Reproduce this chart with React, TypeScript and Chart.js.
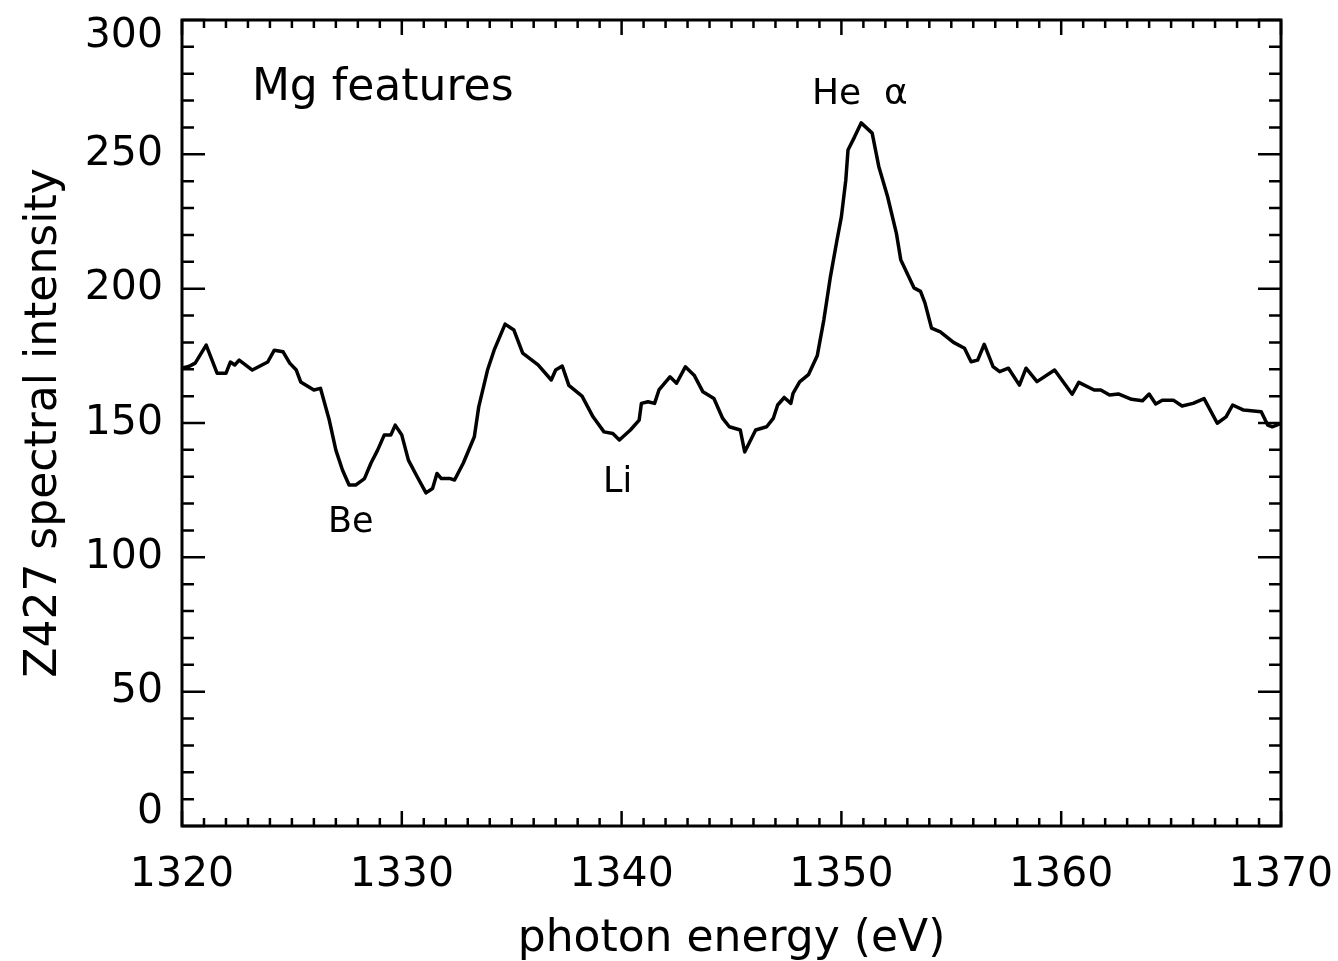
import React, { useEffect, useRef } from "react";
import { Chart, registerables } from "chart.js";

Chart.register(...registerables);

// photon energy (eV)
const energy = [
  1320.0, 1320.3, 1320.6, 1321.1, 1321.6, 1322.0, 1322.2, 1322.4, 1322.6, 1323.2,
  1323.9, 1324.2, 1324.6, 1324.9, 1325.2, 1325.4, 1326.0, 1326.3, 1326.7, 1327.0,
  1327.3, 1327.6, 1327.9, 1328.3, 1328.6, 1328.9, 1329.2, 1329.5, 1329.7, 1330.0,
  1330.3, 1330.7, 1331.1, 1331.4, 1331.6, 1331.8, 1332.2, 1332.4, 1332.8, 1333.3,
  1333.5, 1333.9, 1334.2, 1334.7, 1335.1, 1335.5, 1336.2, 1336.8, 1337.0, 1337.3,
  1337.6, 1338.2, 1338.7, 1339.2, 1339.6, 1339.9, 1340.4, 1340.8, 1340.9, 1341.2,
  1341.5, 1341.7, 1342.2, 1342.5, 1342.9, 1343.3, 1343.7, 1344.2, 1344.6, 1344.9,
  1345.4, 1345.6, 1346.1, 1346.6, 1346.9, 1347.1, 1347.4, 1347.7, 1347.8, 1348.1,
  1348.5, 1348.9, 1349.2, 1349.5, 1349.8, 1350.0, 1350.2, 1350.3, 1350.6, 1350.9,
  1351.4, 1351.7, 1352.1, 1352.5, 1352.7, 1353.3, 1353.6, 1353.8, 1354.1, 1354.5,
  1355.1, 1355.6, 1355.9, 1356.2, 1356.5, 1356.9, 1357.2, 1357.6, 1358.1, 1358.4,
  1358.9, 1359.7, 1360.5, 1360.8, 1361.5, 1361.8, 1362.2, 1362.6, 1363.2, 1363.7,
  1364.0, 1364.3, 1364.6, 1365.1, 1365.5, 1366.0, 1366.5, 1367.1, 1367.5, 1367.8,
  1368.3, 1369.1, 1369.4, 1369.6, 1370.0,
];

// Z427 spectral intensity
const intensity = [
  170.5, 171.0, 172.3, 179.0, 168.5, 168.5, 172.7, 171.6, 173.4, 169.7,
  172.7, 177.1, 176.5, 172.3, 169.7, 165.3, 162.3, 162.9, 151.1, 139.9,
  132.5, 126.9, 126.9, 129.3, 135.1, 139.9, 145.5, 145.5, 149.2, 145.5,
  136.2, 130.0, 124.0, 125.6, 131.2, 129.3, 129.3, 128.8, 135.1, 144.9,
  156.0, 169.7, 177.1, 186.8, 184.6, 176.0, 171.6, 166.0, 169.7, 171.2,
  164.0, 160.0, 152.3, 146.7, 146.1, 143.7, 147.4, 151.1, 157.3, 157.9,
  157.3, 162.3, 167.2, 164.8, 170.9, 167.8, 161.6, 159.1, 151.7, 148.6,
  147.4, 139.2, 147.4, 148.6, 151.7, 156.7, 159.5, 157.3, 161.0, 165.3,
  168.0, 175.0, 188.3, 204.4, 218.1, 226.8, 240.4, 251.6, 256.5, 261.7,
  257.9, 245.5, 234.3, 220.7, 210.8, 200.3, 199.0, 194.7, 185.3, 183.9,
  180.0, 177.8, 172.8, 173.4, 179.3, 171.0, 169.1, 170.4, 164.1, 170.4,
  165.4, 169.7, 160.7, 165.1, 162.3, 162.3, 160.4, 160.8, 158.8, 158.3,
  160.8, 157.1, 158.5, 158.5, 156.3, 157.3, 159.1, 149.9, 152.3, 156.7,
  154.8, 154.2, 149.2, 148.6, 149.9,
];

const xTickLabels = [1320, 1330, 1340, 1350, 1360, 1370];
const yTickLabels = [0, 50, 100, 150, 200, 250, 300];

const annotationTexts = ["Mg features", "He  \u03b1", "Be", "Li"];
const annotationX = [1323.18, 1348.66, 1326.64, 1339.15];
const annotationY = [270.2, 268.9, 109.4, 124.3];
const annotationSizes = [44, 36, 35, 35];

const FONT = "'DejaVu Sans', 'Liberation Sans', sans-serif";

const framePlugin = {
  id: "idlFrame",
  afterDatasetsDraw(chart: any) {
    const { ctx, chartArea: a, scales } = chart;
    const xs = scales.x;
    const ys = scales.y;
    ctx.save();
    ctx.strokeStyle = "#000";
    ctx.lineWidth = 3;
    ctx.lineCap = "butt";
    ctx.strokeRect(a.left, a.top, a.right - a.left, a.bottom - a.top);
    ctx.lineWidth = 2.5;
    ctx.beginPath();
    for (let v = 1320; v <= 1370; v += 1) {
      const px = xs.getPixelForValue(v);
      const len = v % 10 === 0 ? 15 : 8;
      ctx.moveTo(px, a.bottom);
      ctx.lineTo(px, a.bottom - len);
      ctx.moveTo(px, a.top);
      ctx.lineTo(px, a.top + len);
    }
    for (let v = 0; v <= 300; v += 10) {
      const py = ys.getPixelForValue(v);
      const len = v % 50 === 0 ? 23 : 12;
      ctx.moveTo(a.left, py);
      ctx.lineTo(a.left + len, py);
      ctx.moveTo(a.right, py);
      ctx.lineTo(a.right - len, py);
    }
    ctx.stroke();

    ctx.fillStyle = "#000";
    ctx.textAlign = "left";
    ctx.textBaseline = "alphabetic";
    for (let i = 0; i < annotationTexts.length; i++) {
      ctx.font = `${annotationSizes[i]}px ${FONT}`;
      ctx.fillText(
        annotationTexts[i],
        xs.getPixelForValue(annotationX[i]),
        ys.getPixelForValue(annotationY[i])
      );
    }
    ctx.restore();
  },
};

export default function App() {
  const canvasRef = useRef<HTMLCanvasElement | null>(null);

  useEffect(() => {
    if (!canvasRef.current) return;
    const points = energy.map((e, i) => ({ x: e, y: intensity[i] }));
    const chart = new Chart(canvasRef.current, {
      type: "line",
      data: {
        datasets: [
          {
            data: points,
            borderColor: "#000",
            borderWidth: 3.5,
            borderJoinStyle: "round",
            pointRadius: 0,
            tension: 0,
            fill: false,
          },
        ],
      },
      options: {
        animation: false,
        responsive: true,
        maintainAspectRatio: false,
        layout: { padding: { top: 20, right: 57, left: 0, bottom: 0 } },
        plugins: {
          legend: { display: false },
          tooltip: { enabled: false },
        },
        scales: {
          x: {
            type: "linear",
            min: 1320,
            max: 1370,
            grid: { display: false, drawTicks: false, tickLength: 0 },
            border: { display: false },
            ticks: {
              stepSize: 1,
              autoSkip: false,
              maxRotation: 0,
              padding: 25,
              color: "#000",
              font: { family: FONT, size: 41 },
              callback: (v: any) => {
                const n = Math.round(Number(v));
                return xTickLabels.includes(n) ? String(n) : "";
              },
            },
            title: {
              display: true,
              text: "photon energy (eV)",
              color: "#000",
              font: { family: FONT, size: 44, lineHeight: 1 },
              padding: { top: 0, bottom: -1 },
            },
            afterFit: (scale: any) => {
              scale.height = 135;
              scale.paddingLeft = 0;
              scale.paddingRight = 0;
              scale.paddingTop = 0;
              scale.paddingBottom = 0;
            },
          },
          y: {
            type: "linear",
            min: 0,
            max: 300,
            grid: { display: false, drawTicks: false, tickLength: 0 },
            border: { display: false },
            ticks: {
              stepSize: 10,
              autoSkip: false,
              padding: 19,
              color: "#000",
              font: (ctx: any) => {
                const val = ctx.tick ? ctx.tick.value : null;
                let lh: any = 1.2;
                if (val === 0) lh = "28px";
                if (val === 300) lh = "32px";
                return { family: FONT, size: 41, lineHeight: lh };
              },
              callback: (v: any) => {
                const n = Math.round(Number(v));
                if (!yTickLabels.includes(n)) return "";
                if (n === 0) return ["0", ""];
                if (n === 300) return ["", "300"];
                return String(n);
              },
            },
            title: {
              display: true,
              text: "Z427 spectral intensity",
              color: "#000",
              font: { family: FONT, size: 44, lineHeight: 1.2 },
              padding: { top: 18, bottom: 0 },
            },
            afterFit: (scale: any) => {
              scale.width = 182;
              scale.paddingLeft = 0;
              scale.paddingRight = 0;
              scale.paddingTop = 0;
              scale.paddingBottom = 0;
            },
          },
        },
      },
      plugins: [framePlugin],
    });
    return () => chart.destroy();
  }, []);

  return (
    <div
      style={{
        position: "fixed",
        left: 0,
        top: 0,
        width: 1338,
        height: 961,
        background: "#fff",
      }}
    >
      <canvas ref={canvasRef} />
    </div>
  );
}
